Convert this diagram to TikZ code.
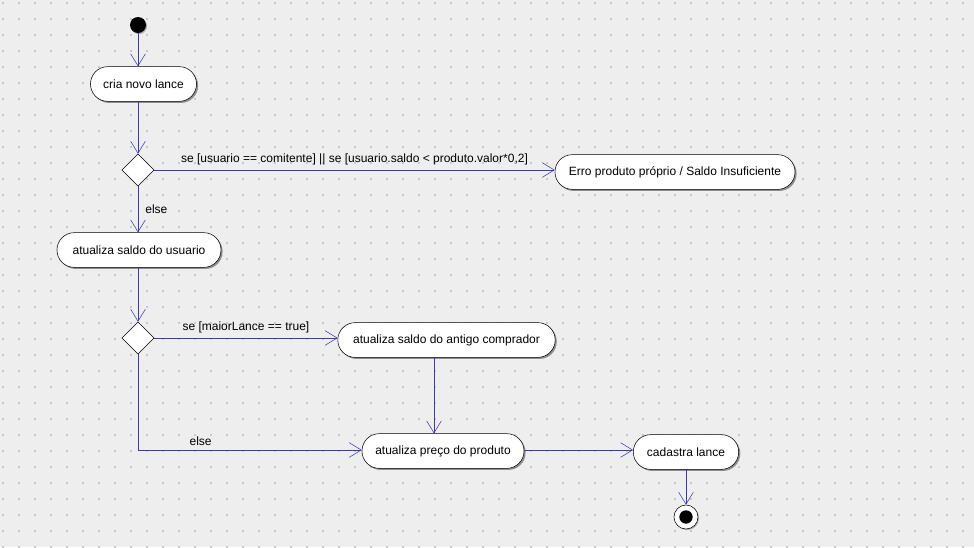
\documentclass[tikz,border=0pt]{standalone}
\usepackage{fontspec}
\setmainfont{Liberation Sans}
\usetikzlibrary{shapes.geometric,shadows,arrows.meta}
\definecolor{fundo}{RGB}{238,238,238}
\definecolor{pontos}{RGB}{200,200,200}
\definecolor{azul}{RGB}{58,58,168}
\begin{document}
\begin{tikzpicture}[x=0.75pt, y=-0.75pt, font=\fontsize{9}{11}\selectfont,
                    acao/.style = {draw, fill=white, rounded corners=12.9pt, minimum height=26pt, inner sep=0pt,
                                   drop shadow={shadow xshift=1.2pt, shadow yshift=-1.2pt, fill=black!60, opacity=0.7}},
                    decisao/.style = {draw, diamond, fill=white, minimum size=24pt, inner sep=0pt},
                    seta/.style = {draw=azul, -{Straight Barb[length=9pt, width=11pt]}}]
                    \useasboundingbox (0,0) rectangle (974,547);
                    \fill[fundo] (0,0) rectangle (974,547);
                    \foreach \i in {0,...,60}
                        \foreach \j in {0,...,34}
                            \fill[pontos] (2+16*\i,2+16*\j) rectangle +(2,2);
                    \node[circle, fill=black, minimum size=12pt, inner sep=0pt,
                          drop shadow={shadow xshift=0.8pt, shadow yshift=-0.8pt, fill=black!50, opacity=0.6}] (inicio) at (138,25) {};
                    \node[acao, minimum width=79.5pt] (cria) at (143.5,84) {cria novo lance};
                    \node[decisao] (dec1) at (138,170) {};
                    \node[acao, minimum width=180pt] (erro) at (675,172) {Erro produto próprio / Saldo Insuficiente};
                    \node[acao, minimum width=123pt] (saldo) at (139,250) {atualiza saldo do usuario};
                    \node[decisao] (dec2) at (138,338) {};
                    \node[acao, minimum width=163pt] (antigo) at (446.5,340) {atualiza saldo do antigo comprador};
                    \node[acao, minimum width=121.5pt] (preco) at (443,451) {atualiza preço do produto};
                    \node[acao, minimum width=79pt] (cadastra) at (686,452) {cadastra lance};
                    \node[circle, draw, fill=white, minimum size=18pt, inner sep=0pt,
                          drop shadow={shadow xshift=0.8pt, shadow yshift=-0.8pt, fill=black!50, opacity=0.6}] (fim) at (686,517) {};
                    \fill (fim) circle (5pt);
                    \coordinate (meio) at (434,0);
                    \draw[seta] (inicio) -- (inicio |- cria.north);
                    \draw[seta] (dec1 |- cria.south) -- (dec1.north);
                    \draw[seta] (dec1.east) -- node[midway,above]{se [usuario == comitente] || se [usuario.saldo < produto.valor*0,2]} (dec1.east -| erro.west);
                    \draw[seta] (dec1.south) -- node[midway,right,xshift=2pt]{else} (dec1 |- saldo.north);
                    \draw[seta] (dec2 |- saldo.south) -- (dec2.north);
                    \draw[seta] (dec2.east) -- node[midway,above]{se [maiorLance == true]} (dec2.east -| antigo.west);
                    \draw[seta] (antigo.south -| meio) -- (preco.north -| meio);
                    \draw[seta] (dec2.south) |- node[pos=0.64,above]{else} ([yshift=0.75pt]preco.west);
                    \draw[seta] ([yshift=0.75pt]preco.east) -- ([yshift=0.75pt]preco.east -| cadastra.west);
                    \draw[seta] (cadastra.south) -- (fim.north);
                \end{tikzpicture}
\end{document}
